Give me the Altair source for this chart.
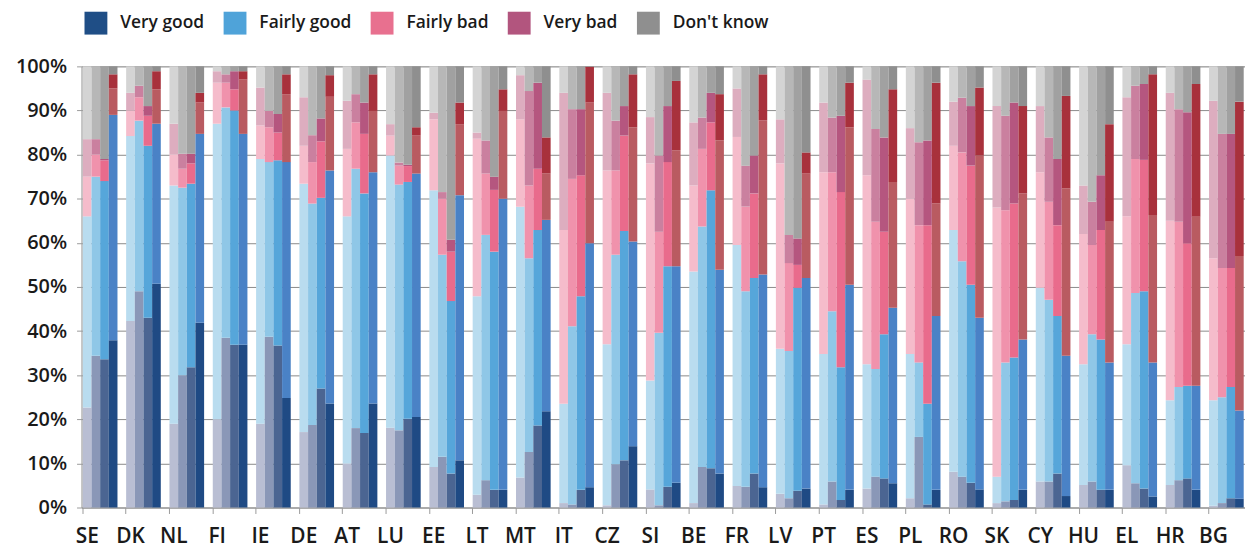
import altair as alt
import pandas as pd

countries = ["SE", "DK", "NL", "FI", "IE", "DE", "AT", "LU", "EE", "LT", "MT", "IT", "CZ", "SI",
             "BE", "FR", "LV", "PT", "ES", "PL", "RO", "SK", "CY", "HU", "EL", "HR", "BG"]
periods = ["1", "2", "3", "4"]
categories = ["Very good", "Fairly good", "Fairly bad", "Very bad", "Don't know"]

# Cumulative upper boundary (%) of each answer, four survey waves per country
very_good_top = [
    [22.7, 34.4, 33.6, 37.9], [42.3, 49.0, 43.0, 50.7], [19.0, 30.0, 31.8, 41.9],
    [20.0, 38.5, 36.9, 36.9], [19.0, 38.7, 36.7, 24.8], [17.1, 18.7, 27.0, 23.6],
    [10.0, 18.0, 16.9, 23.6], [18.1, 17.5, 20.1, 20.5], [9.2, 11.5, 7.7, 10.7],
    [2.9, 6.2, 4.0, 4.0], [6.8, 12.6, 18.6, 21.8], [1.0, 0.7, 4.0, 4.6],
    [0.5, 9.8, 10.7, 13.9], [4.1, 0.5, 4.7, 5.6], [1.0, 9.2, 8.9, 7.7],
    [4.9, 4.7, 7.7, 4.6], [3.1, 2.1, 3.8, 4.3], [0.7, 5.9, 1.7, 4.0],
    [4.3, 7.0, 6.6, 5.5], [2.1, 16.0, 0.7, 4.0], [8.1, 7.0, 5.6, 4.1],
    [1.0, 1.4, 1.7, 4.0], [5.9, 5.9, 7.7, 2.6], [5.1, 5.9, 4.0, 4.0],
    [9.6, 5.5, 4.3, 2.5], [5.1, 6.2, 6.6, 4.0], [0.4, 1.0, 2.1, 2.0],
]
fairly_good_top = [
    [66.0, 75.0, 74.0, 89.0], [84.2, 87.7, 82.0, 87.0], [73.0, 72.5, 73.4, 84.7],
    [87.0, 90.7, 90.0, 84.7], [79.0, 78.3, 78.7, 78.3], [73.4, 68.9, 70.2, 76.4],
    [66.0, 76.8, 71.2, 76.0], [79.8, 73.2, 73.8, 75.7], [71.9, 57.3, 46.8, 70.8],
    [47.9, 61.8, 58.0, 70.0], [68.2, 56.5, 62.9, 65.2], [23.5, 41.1, 47.9, 59.9],
    [37.0, 57.3, 62.7, 60.3], [28.8, 39.6, 54.7, 54.7], [53.5, 63.7, 71.9, 53.9],
    [59.5, 49.0, 52.0, 52.8], [36.0, 35.5, 49.8, 52.0], [34.8, 44.5, 31.8, 50.5],
    [32.5, 31.4, 39.3, 45.3], [34.8, 32.9, 23.5, 43.4], [62.9, 55.8, 50.5, 43.0],
    [7.0, 32.9, 34.0, 38.1], [49.8, 47.1, 43.4, 34.4], [32.5, 39.3, 38.1, 32.9],
    [37.0, 48.6, 49.0, 32.9], [24.3, 27.3, 27.6, 27.6], [24.3, 25.0, 27.3, 22.0],
]
fairly_bad_top = [
    [75.0, 80.0, 78.7, 95.0], [90.0, 93.0, 88.8, 94.8], [80.0, 76.8, 78.0, 91.8],
    [96.3, 96.3, 94.8, 97.0], [86.6, 86.2, 85.0, 93.7], [82.0, 78.3, 83.0, 93.1],
    [81.3, 87.3, 84.7, 89.9], [84.3, 77.5, 77.4, 84.3], [88.0, 70.0, 58.0, 86.9],
    [83.6, 75.7, 72.0, 89.9], [88.0, 73.0, 76.8, 75.7], [62.9, 74.5, 75.3, 91.8],
    [76.4, 76.4, 84.3, 86.2], [78.0, 62.5, 78.3, 80.9], [73.0, 81.3, 87.3, 83.2],
    [84.0, 68.2, 71.2, 87.7], [78.0, 55.4, 55.0, 75.7], [76.0, 76.0, 71.5, 86.2],
    [75.3, 64.8, 62.5, 73.8], [70.0, 64.0, 64.0, 68.9], [82.0, 80.5, 77.5, 79.8],
    [68.0, 67.4, 68.9, 71.2], [76.0, 69.3, 64.0, 72.3], [62.0, 59.5, 62.9, 64.8],
    [66.0, 79.0, 78.8, 66.3], [65.0, 64.8, 59.9, 65.9], [56.5, 54.3, 54.3, 57.0],
]
very_bad_top = [
    [83.5, 83.5, 79.0, 98.2], [94.0, 95.6, 91.0, 98.9], [87.0, 80.2, 80.2, 94.0],
    [98.9, 98.2, 98.9, 98.9], [95.2, 89.9, 89.2, 98.2], [93.0, 84.4, 88.2, 98.0],
    [92.2, 93.7, 91.8, 98.2], [86.9, 78.2, 77.7, 86.2], [89.5, 71.5, 60.7, 91.8],
    [85.0, 83.2, 75.0, 94.8], [98.0, 94.4, 96.3, 83.9], [94.0, 90.3, 90.3, 99.9],
    [94.0, 87.7, 91.0, 98.2], [88.5, 79.8, 91.0, 96.7], [87.3, 88.4, 94.0, 93.7],
    [95.0, 77.5, 79.8, 98.2], [88.0, 61.8, 61.0, 80.5], [91.8, 88.4, 88.8, 96.3],
    [97.0, 85.8, 83.9, 94.8], [86.0, 82.8, 83.2, 96.3], [92.0, 92.9, 91.0, 95.2],
    [91.0, 88.8, 91.8, 91.0], [91.0, 83.9, 79.0, 93.3], [73.0, 69.3, 75.3, 86.9],
    [93.0, 95.6, 96.0, 98.2], [94.0, 90.3, 89.6, 96.0], [92.2, 84.7, 84.7, 92.0],
]

bar_colors = {
    "Very good":   ["#b9bed3", "#8a97b7", "#4b6592", "#1f4a84"],
    "Fairly good": ["#b9dcef", "#8fc7e7", "#56a6da", "#4a82c6"],
    "Fairly bad":  ["#f5bccb", "#f092ac", "#e96b8c", "#b95b61"],
    "Very bad":    ["#ddadbf", "#ca809f", "#b5567f", "#a8313c"],
    "Don't know":  ["#d4d4d4", "#b7b7b7", "#a1a1a1", "#8f8f8f"],
}
legend_colors = ["#1f4e86", "#4fa3d9", "#e8708f", "#b2557e", "#8f8f8f"]

rows = []
for ci, c in enumerate(countries):
    for pi, p in enumerate(periods):
        levels = [0, very_good_top[ci][pi], fairly_good_top[ci][pi],
                  fairly_bad_top[ci][pi], very_bad_top[ci][pi], 100]
        for k, cat in enumerate(categories):
            rows.append({"country": c, "period": p, "category": cat,
                         "lo": levels[k], "hi": levels[k + 1],
                         "key": f"{cat}|{p}"})
df = pd.DataFrame(rows)

keys, key_colors = [], []
for cat in categories:
    for pi, p in enumerate(periods):
        keys.append(f"{cat}|{p}")
        key_colors.append(bar_colors[cat][pi])

FONT = "Open Sans"
TXT = "#1a1a1a"

x_enc = alt.X("country:N", sort=countries,
              scale=alt.Scale(paddingInner=0.2, paddingOuter=0.03),
              axis=alt.Axis(title=None, labelAngle=0, bandPosition=0, labelOffset=-13,
                            tickSize=6, labelPadding=12, labelFontSize=21,
                            labelFont=FONT, labelFontWeight=600, labelColor=TXT,
                            domainColor="#9a9a9a", tickColor="#9a9a9a"))
y_axis = alt.Axis(title=None, values=list(range(0, 101, 10)),
                  labelExpr="datum.value + '%'", labelFontSize=20, labelFont=FONT,
                  labelFontWeight=600, labelColor=TXT, tickSize=5, labelPadding=10,
                  grid=True, gridColor="#8a8a8a", domainColor="#9a9a9a",
                  tickColor="#9a9a9a", minExtent=69, maxExtent=69)

bars = alt.Chart(df).mark_bar().encode(
    x=x_enc,
    xOffset=alt.XOffset("period:N", sort=periods,
                        scale=alt.Scale(paddingInner=0, paddingOuter=0)),
    y=alt.Y("lo:Q", scale=alt.Scale(domain=[0, 100], nice=False), axis=y_axis),
    y2="hi:Q",
    color=alt.Color("key:N", scale=alt.Scale(domain=keys, range=key_colors), legend=None),
)

legend_df = pd.DataFrame({"category": categories, "country": ["SE"] * 5, "zero": [0] * 5})
leg = alt.Chart(legend_df).mark_bar().encode(
    x=x_enc,
    y=alt.Y("zero:Q", scale=alt.Scale(domain=[0, 100], nice=False), axis=y_axis),
    y2="zero:Q",
    color=alt.Color("category:N", sort=categories,
                    scale=alt.Scale(domain=categories, range=legend_colors),
                    legend=alt.Legend(title=None, orient="none", legendX=3, legendY=-55,
                                      direction="horizontal", columns=5,
                                      symbolType="square", symbolSize=529,
                                      symbolStrokeWidth=0, symbolOpacity=1,
                                      labelFontSize=17.5, labelFont=FONT,
                                      labelFontWeight=600, labelColor=TXT,
                                      labelOffset=13, columnPadding=19, padding=0)),
)

chart = alt.layer(bars, leg).resolve_scale(color="independent").properties(
    width=1171, height=444,
    padding={"left": 5, "top": 2, "right": 0, "bottom": 0},
).configure_view(stroke=None).configure(background="white")

chart.save("out.html", embed_options={"renderer": "svg", "actions": False})
